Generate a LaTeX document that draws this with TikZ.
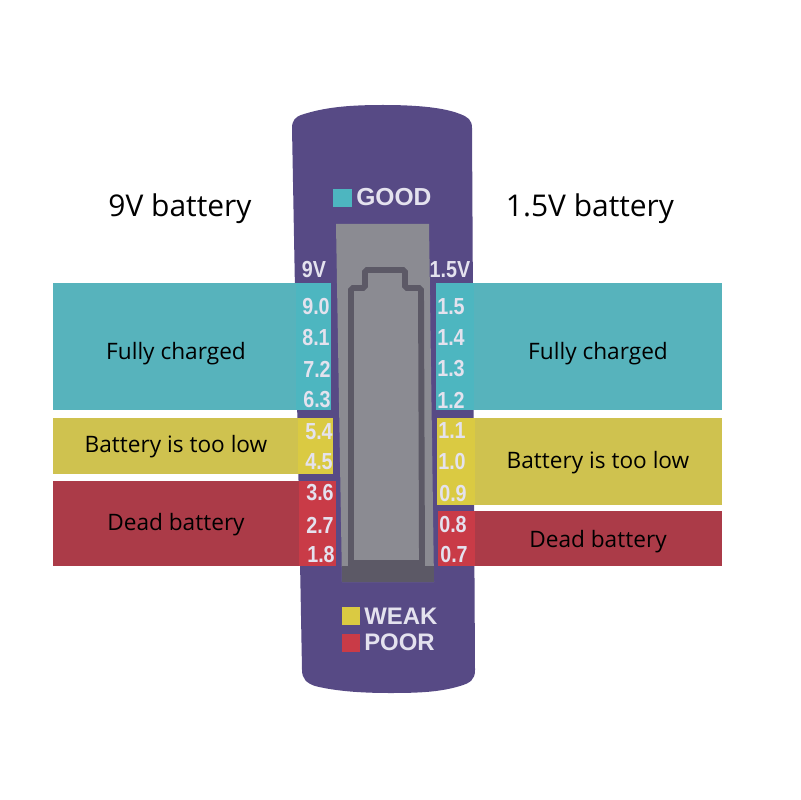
\documentclass[tikz,border=0pt]{standalone}
\usepackage{fontspec}
\setmainfont{Open Sans}
\newfontfamily\panelfont{Liberation Sans}
\newfontfamily\scalefont{Liberation Sans}[FakeStretch=0.85]
\definecolor{bodypurple}{HTML}{574A85}
\definecolor{lcdgray}{HTML}{8B8B92}
\definecolor{lcdframe}{HTML}{5C5966}
\definecolor{panelwhite}{HTML}{E4E2EE}
\definecolor{tealband}{HTML}{57B3BC}
\definecolor{tealpatch}{HTML}{4DB6C0}
\definecolor{yellowband}{HTML}{CFC24F}
\definecolor{yellowpatch}{HTML}{DACA42}
\definecolor{redband}{HTML}{AB3B48}
\definecolor{redpatch}{HTML}{C93B47}
\tikzset{
    headline/.style={font=\fontsize{21.3}{24}\selectfont, text=black, inner sep=0pt},
    bandlabel/.style={font=\fontsize{16.1}{19}\selectfont, text=black, inner sep=0pt},
    volt/.style={font=\scalefont\bfseries\fontsize{16.5}{18}\selectfont, text=panelwhite, inner sep=0pt},
    legend/.style={font=\panelfont\bfseries\fontsize{17}{20}\selectfont, text=panelwhite, inner sep=0pt, anchor=west}
}
\begin{document}
\begin{tikzpicture}[x=0.025cm, y=-0.025cm]
    \useasboundingbox (0, 0) rectangle (800, 800);
    % tester body
    \fill[bodypurple] (292, 128) .. controls (292, 120) and (296, 117) .. (301, 115)
        .. controls (325, 107) and (350, 105) .. (383, 105)
        .. controls (420, 105) and (445, 108) .. (460, 114)
        .. controls (468, 117) and (472, 120) .. (472, 128)
        -- (475, 670) .. controls (475, 680) and (470, 683) .. (460, 686)
        .. controls (440, 692) and (420, 693) .. (390, 693)
        .. controls (360, 693) and (335, 691) .. (315, 686)
        .. controls (306, 683) and (302, 678) .. (302, 670) -- cycle;
    % display
    \fill[lcdgray] (336, 224) -- (429, 224) -- (434, 582) -- (342, 582) -- cycle;
    \fill[lcdframe] (342, 566) -- (434, 566) -- (434, 582) -- (342, 582) -- cycle;
    \draw[lcdframe, line width=4.2pt, line join=miter]
        (351, 563) -- (351, 290) -- (353, 288) -- (363, 288) -- (365, 286) -- (365, 272)
        -- (367, 270) -- (403, 270) -- (405, 272) -- (405, 286) -- (407, 288)
        -- (419, 288) -- (421, 290) -- (422, 563) -- cycle;
    % colour bands, left side
    \fill[tealband] (53, 283) rectangle (296, 410);
    \fill[tealpatch] (296, 283) rectangle (331, 410);
    \fill[yellowband] (53, 418) rectangle (298, 474);
    \fill[yellowpatch] (298, 418) rectangle (333, 474);
    \fill[redband] (53, 481) rectangle (299, 566);
    \fill[redpatch] (299, 481) rectangle (336, 566);
    % colour bands, right side
    \fill[tealpatch] (436, 283) rectangle (474, 410);
    \fill[tealband] (474, 283) rectangle (722, 410);
    \fill[yellowpatch] (437, 418) rectangle (475, 505);
    \fill[yellowband] (475, 418) rectangle (722, 505);
    \fill[redpatch] (438, 511) rectangle (475, 566);
    \fill[redband] (475, 511) rectangle (722, 566);
    % legend
    \fill[tealpatch] (333, 189) rectangle (352, 207);
    \fill[yellowpatch] (342, 607) rectangle (360, 625);
    \fill[redpatch] (342, 634) rectangle (360, 652);
    \node[legend, font=\panelfont\bfseries\fontsize{17.5}{20}\selectfont] (good) at(356, 197) {GOOD};
    \node[legend] (weak) at(364, 616) {WEAK};
    \node[legend] (poor) at(364, 642) {POOR};
    % scale, 9V
    \node[volt] (nine) at(314, 270) {9V};
    \node[volt] (n90) at(316, 307) {9.0};
    \node[volt] (n81) at(316, 338) {8.1};
    \node[volt] (n72) at(317, 369) {7.2};
    \node[volt] (n63) at(317, 400) {6.3};
    \node[volt] (n54) at(319, 432) {5.4};
    \node[volt] (n45) at(319, 462) {4.5};
    \node[volt] (n36) at(320, 493) {3.6};
    \node[volt] (n27) at(320, 525) {2.7};
    \node[volt] (n18) at(321, 555) {1.8};
    % scale, 1.5V
    \node[volt] (aa) at(450, 270) {1.5V};
    \node[volt] (a15) at(451, 307) {1.5};
    \node[volt] (a14) at(451, 338) {1.4};
    \node[volt] (a13) at(451, 369) {1.3};
    \node[volt] (a12) at(451, 400) {1.2};
    \node[volt] (a11) at(452, 431) {1.1};
    \node[volt] (a10) at(452, 462) {1.0};
    \node[volt] (a09) at(453, 494) {0.9};
    \node[volt] (a08) at(453, 525) {0.8};
    \node[volt] (a07) at(454, 555) {0.7};
    % captions
    \node[headline] (leftTitle) at(180, 209) {9V battery};
    \node[headline] (rightTitle) at(590, 209) {1.5V battery};
    \node[bandlabel] (leftFull) at(176, 354) {Fully charged};
    \node[bandlabel] (rightFull) at(598, 354) {Fully charged};
    \node[bandlabel] (leftLow) at(176, 447) {Battery is too low};
    \node[bandlabel] (rightLow) at(598, 463) {Battery is too low};
    \node[bandlabel] (leftDead) at(176, 525) {Dead battery};
    \node[bandlabel] (rightDead) at(598, 542) {Dead battery};
\end{tikzpicture}
\end{document}
